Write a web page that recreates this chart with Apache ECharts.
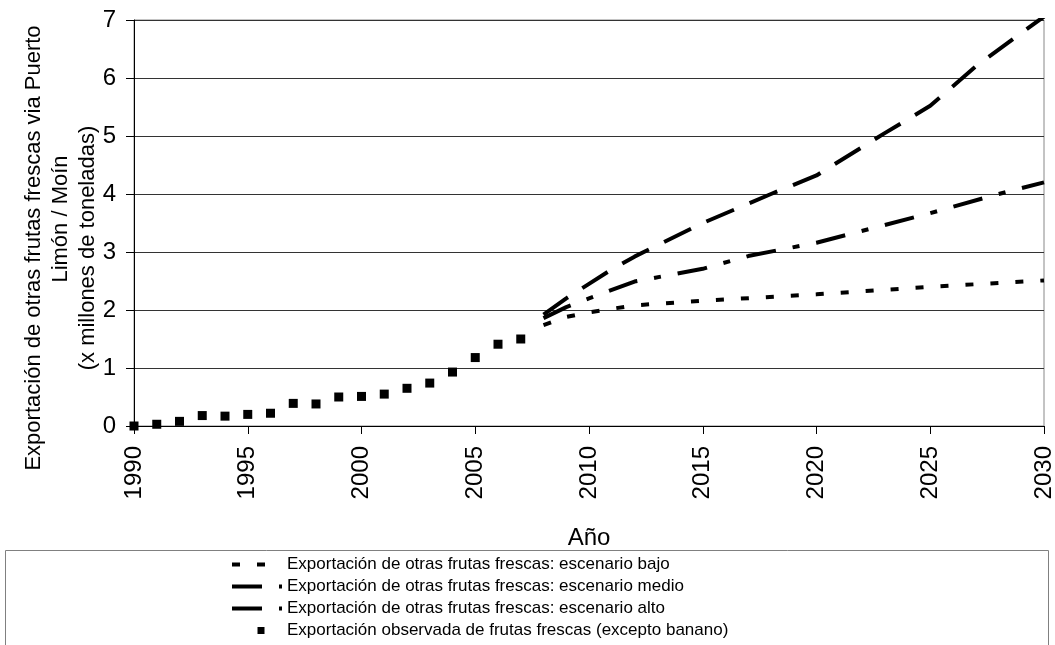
<!DOCTYPE html>
<html>
<head>
<meta charset="utf-8">
<script src="https://cdn.jsdelivr.net/npm/echarts@6/dist/echarts.min.js"></script>
<style>
  html, body { margin: 0; padding: 0; background: #fff; }
  #main { width: 1055px; height: 645px; }
</style>
</head>
<body>
<div id="main"></div>
<script>
// observed exports 1990-2007 (millions of tonnes)
var obsYears = [1990, 1991, 1992, 1993, 1994, 1995, 1996, 1997, 1998, 1999, 2000, 2001, 2002, 2003, 2004, 2005, 2006, 2007];
var obsValues = [0, 0.03, 0.08, 0.18, 0.17, 0.2, 0.22, 0.39, 0.38, 0.5, 0.51, 0.55, 0.65, 0.74, 0.93, 1.18, 1.41, 1.5];

// scenarios
var bajoYears = [2008, 2009, 2010, 2012, 2015, 2020, 2025, 2030];
var bajoValues = [1.74, 1.88, 1.96, 2.08, 2.16, 2.27, 2.4, 2.51];

var medioYears = [2008, 2009, 2010, 2012, 2015, 2017, 2020, 2025, 2028, 2030];
var medioValues = [1.86, 2.05, 2.2, 2.49, 2.71, 2.93, 3.16, 3.67, 4.0, 4.2];

var altoYears = [2008, 2009, 2010, 2011, 2012, 2015, 2018, 2020, 2023, 2025, 2027, 2030];
var altoValues = [1.92, 2.2, 2.45, 2.7, 2.92, 3.5, 4.0, 4.32, 5.05, 5.52, 6.2, 7.06];

var seriesNames = [
  'Exportación de otras frutas frescas: escenario bajo',
  'Exportación de otras frutas frescas: escenario medio',
  'Exportación de otras frutas frescas: escenario alto',
  'Exportación observada de frutas frescas (excepto banano)'
];

function pairs(xs, ys) {
  var out = [];
  for (var i = 0; i < xs.length; i++) out.push([xs[i], ys[i]]);
  return out;
}

var font = '"Liberation Sans", Arial, sans-serif';
var myChart = echarts.init(document.getElementById('main'));

// line items in the legend: hide the little symbol dot
var legendData = seriesNames.slice(0, 3).map(function (n) {
  return { name: n, itemStyle: { opacity: 0 } };
});
legendData.push({ name: seriesNames[3], icon: 'path://M0,0M50,7M25.5,0h7v7h-7z' });

var option = {
  backgroundColor: '#fff',
  animation: false,
  textStyle: { fontFamily: font, color: '#000' },
  grid: {
    left: 134, right: 11, top: 20, bottom: 219,
    outerBoundsMode: 'none',
    containLabel: false,
    show: true, borderColor: '#888', borderWidth: 1
  },
  legend: {
    orient: 'vertical',
    left: 225, top: 551,
    height: 100,
    itemWidth: 50, itemHeight: 7, itemGap: 5,
    lineStyle: { width: 4 },
    textStyle: { fontSize: 17, color: '#000', fontFamily: font },
    data: legendData
  },
  graphic: [{
    type: 'rect',
    shape: { x: 5.5, y: 550.5, width: 1043, height: 120 },
    style: { fill: 'none', stroke: '#808080', lineWidth: 1 },
    z: -1
  }],
  xAxis: {
    type: 'value',
    min: 1990, max: 2030, interval: 5,
    name: 'Año',
    nameLocation: 'middle',
    nameGap: 100,
    nameMoveOverlap: false,
    nameTextStyle: { fontSize: 24, color: '#000', fontFamily: font },
    axisLine: { lineStyle: { color: '#000', width: 1 } },
    axisTick: { length: 8, lineStyle: { color: '#000' } },
    axisLabel: {
      rotate: 90, fontSize: 24, margin: 20, color: '#000', fontFamily: font,
      formatter: function (v) { return String(v); }
    },
    splitLine: { show: false }
  },
  yAxis: {
    type: 'value',
    min: 0, max: 7, interval: 1,
    name: '{a|Exportación de otras frutas frescas via Puerto}\n{b|Limón / Moín}\n{a|(x millones de toneladas)}',
    nameLocation: 'middle',
    nameGap: 33,
    nameMoveOverlap: false,
    nameTextStyle: {
      fontSize: 22, lineHeight: 27, color: '#000', fontFamily: font,
      padding: [0, 50, 0, 0],
      rich: {
        a: { fontSize: 22, lineHeight: 27, fontFamily: font, color: '#000' },
        b: { fontSize: 22, lineHeight: 27, fontFamily: font, color: '#000', padding: [0, 0, 0, 58] }
      }
    },
    axisLine: { show: true, lineStyle: { color: '#000', width: 1 } },
    axisTick: { show: true, length: 8, lineStyle: { color: '#000' } },
    axisLabel: { fontSize: 24, margin: 18, color: '#000', fontFamily: font },
    splitLine: { lineStyle: { color: '#333', width: 1 } }
  },
  series: [{
    name: seriesNames[0],
    type: 'line',
    symbol: 'none',
    data: pairs(bajoYears, bajoValues),
    lineStyle: { color: '#000', width: 4, type: [8, 17] },
    itemStyle: { color: '#000' }
  }, {
    name: seriesNames[1],
    type: 'line',
    symbol: 'none',
    data: pairs(medioYears, medioValues),
    lineStyle: { color: '#000', width: 4, type: [30, 17, 7, 17] },
    itemStyle: { color: '#000' }
  }, {
    name: seriesNames[2],
    type: 'line',
    symbol: 'none',
    data: pairs(altoYears, altoValues),
    lineStyle: { color: '#000', width: 4, type: [30, 17] },
    itemStyle: { color: '#000' }
  }, {
    name: seriesNames[3],
    type: 'scatter',
    symbol: 'rect',
    symbolSize: 9,
    data: pairs(obsYears, obsValues),
    itemStyle: { color: '#000', opacity: 1 }
  }]
};

myChart.setOption(option);
</script>
</body>
</html>
